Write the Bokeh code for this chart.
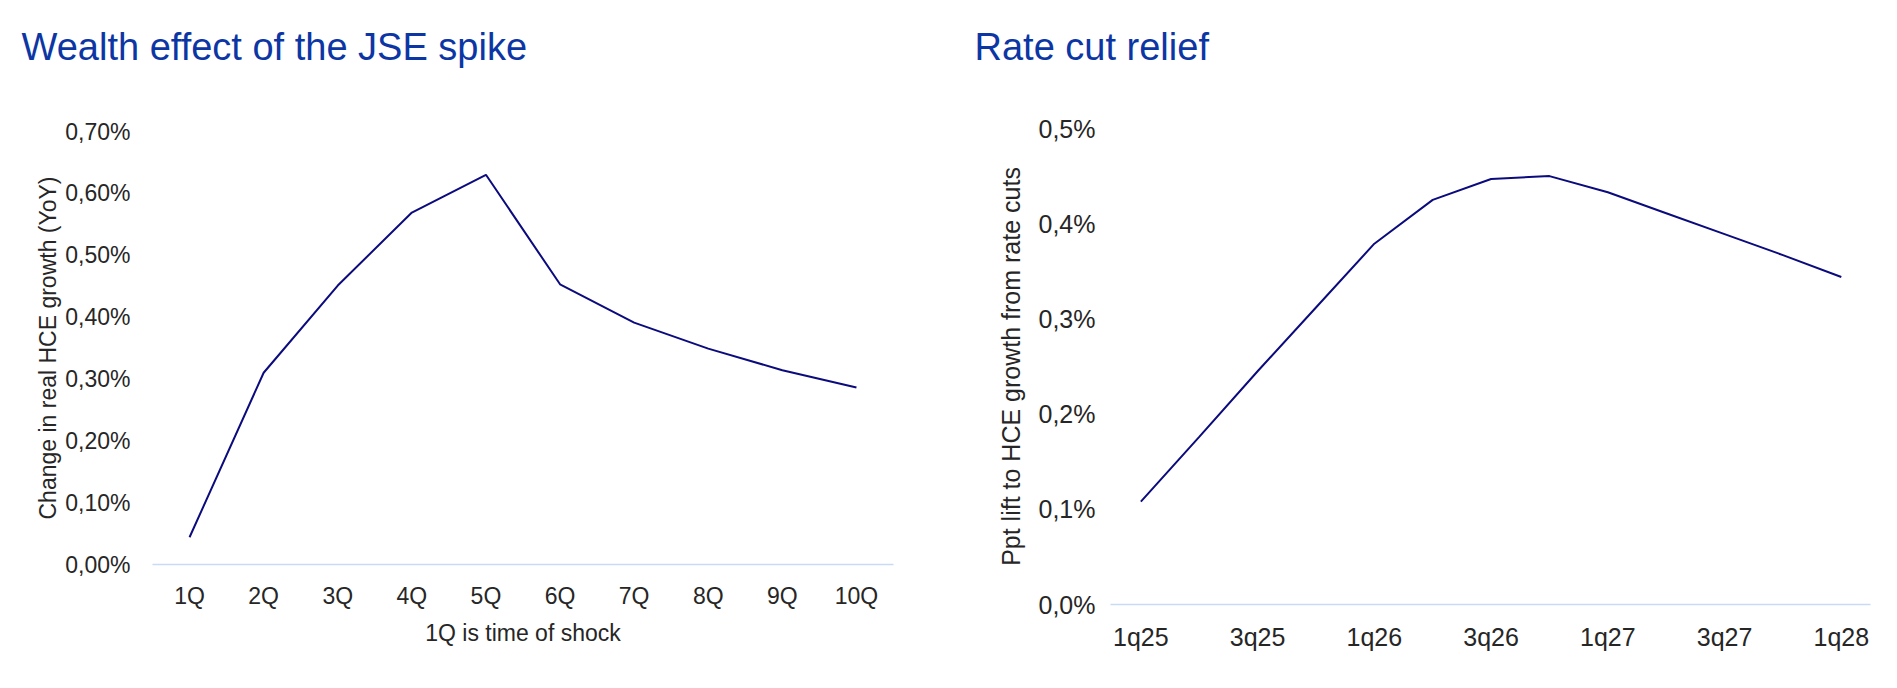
from bokeh.plotting import figure
from bokeh.models import FactorRange, Range1d, FixedTicker, CustomJSTickFormatter, Title
from bokeh.layouts import row, column
from bokeh.embed import file_html
from bokeh.resources import INLINE

# --- Wealth effect of the JSE spike ---------------------------------------
shock_quarters = ["1Q", "2Q", "3Q", "4Q", "5Q", "6Q", "7Q", "8Q", "9Q", "10Q"]
wealth_effect = [0.044, 0.310, 0.451, 0.569, 0.630, 0.453, 0.391, 0.349, 0.314, 0.286]
wealth_ticks = [0.0, 0.1, 0.2, 0.3, 0.4, 0.5, 0.6, 0.7]

# --- Rate cut relief --------------------------------------------------------
forecast_quarters = ["1q25", "2q25", "3q25", "4q25", "1q26", "2q26", "3q26",
                     "4q26", "1q27", "2q27", "3q27", "4q27", "1q28"]
rate_cut_lift = [0.108, 0.176, 0.245, 0.312, 0.379, 0.425, 0.447,
                 0.450, 0.433, 0.411, 0.389, 0.367, 0.344]
rate_ticks = [0.0, 0.1, 0.2, 0.3, 0.4, 0.5]

FONT = "Liberation Sans"
TITLE_COLOR = "#0D36A5"
TEXT_COLOR = "#262626"
LINE_COLOR = "#0B0B7E"
BASE_COLOR = "#C9DAF8"


def style(p, label_px):
    p.outline_line_color = None
    p.grid.visible = False
    p.background_fill_color = "white"
    p.border_fill_color = "white"
    for ax in (p.xaxis[0], p.yaxis[0]):
        ax.major_tick_line_color = None
        ax.minor_tick_line_color = None
        ax.major_tick_out = 0
        ax.major_tick_in = 0
        ax.minor_tick_out = 0
        ax.major_label_text_font = FONT
        ax.major_label_text_font_size = label_px
        ax.major_label_text_color = TEXT_COLOR
        ax.axis_label_text_font = FONT
        ax.axis_label_text_font_size = label_px
        ax.axis_label_text_font_style = "normal"
        ax.axis_label_text_color = TEXT_COLOR
    p.xaxis.axis_line_color = BASE_COLOR
    p.xaxis.axis_line_width = 1.5
    p.yaxis.axis_line_color = None


def make_title(text, shift, standoff):
    # left-aligned heading pulled out past the frame edge; the trailing blank
    # line lifts the heading towards the top of the canvas
    return Title(text=text + "\n", align="left", vertical_align="top", offset=shift,
                 standoff=standoff, text_font=FONT, text_font_size="38px",
                 text_font_style="normal", text_color=TITLE_COLOR)


# Left panel
left = figure(width=950, height=688, x_range=FactorRange(factors=shock_quarters),
              y_range=Range1d(0, 0.7), output_backend="svg", toolbar_location=None,
              title=make_title("Wealth effect of the JSE spike", -131, 39),
              min_border_left=152, min_border_right=57, min_border_top=131,
              min_border_bottom=124)
left.line(x=shock_quarters, y=wealth_effect, line_color=LINE_COLOR, line_width=2)
style(left, "23px")
left.yaxis.ticker = FixedTicker(ticks=wealth_ticks)
left.yaxis.formatter = CustomJSTickFormatter(
    code="return tick.toFixed(2).replace('.', ',') + '%';")
left.yaxis.major_label_standoff = 22
left.yaxis.axis_label = "Change in real HCE growth (YoY)"
left.yaxis.axis_label_standoff = 1
left.xaxis.major_label_standoff = 18
left.xaxis.axis_label = "1Q is time of shock"
left.xaxis.axis_label_standoff = 8

# Right panel
idx = list(range(len(forecast_quarters)))
shown = idx[::2]
right = figure(width=947, height=688, x_range=Range1d(-0.52, 12.5),
               y_range=Range1d(0, 0.5), output_backend="svg", toolbar_location=None,
               title=make_title("Rate cut relief", -136, 33),
               min_border_left=160, min_border_right=27, min_border_top=128,
               min_border_bottom=84)
right.line(x=idx, y=rate_cut_lift, line_color=LINE_COLOR, line_width=2)
style(right, "25px")
right.xaxis.ticker = FixedTicker(ticks=shown)
right.xaxis.major_label_overrides = {i: forecast_quarters[i] for i in shown}
right.xaxis.major_label_standoff = 18
right.yaxis.ticker = FixedTicker(ticks=rate_ticks)
right.yaxis.formatter = CustomJSTickFormatter(
    code="return tick.toFixed(1).replace('.', ',') + '%';")
right.yaxis.major_label_standoff = 15
right.yaxis.axis_label = "Ppt lift to HCE growth from rate cuts"
right.yaxis.axis_label_standoff = 11

layout = row(column(left), column(right))
open("out.html", "w").write(file_html(layout, INLINE))
